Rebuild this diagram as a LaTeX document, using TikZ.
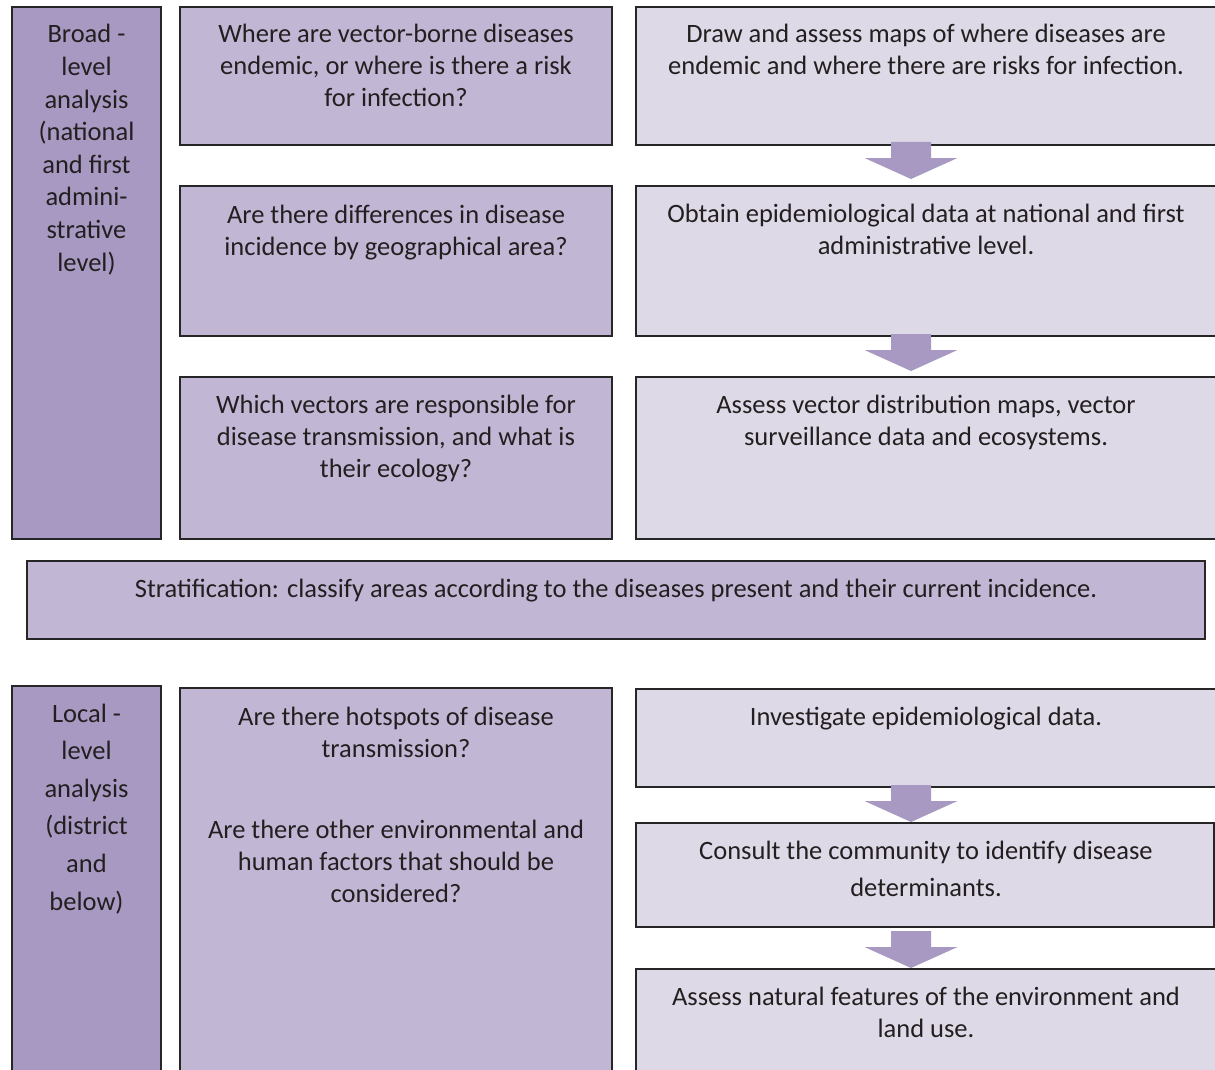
\documentclass[tikz,border=0pt]{standalone}
\usepackage{fontspec}
\setmainfont{Carlito}
\usetikzlibrary{calc}

\definecolor{deep}{HTML}{A899C2}
\definecolor{mid}{HTML}{C1B7D4}
\definecolor{pale}{HTML}{DED9E6}
\definecolor{edge}{HTML}{262626}
\definecolor{ink}{HTML}{231F20}

% centred block of lines; #1 = line spacing, #2 = lines
\newcommand\stack[2]{\parbox[t]{1150pt}{\centering\fontsize{26.5}{#1}\selectfont #2}}

% block arrow pointing down from one panel to the next;
% #1 = gap between tip and the lower panel
\newcommand\flowarrow[3][6]{%
  \coordinate (tip) at ($(#3.north west)+(275,-#1)$);
  \fill[deep] ($(tip)+(-20,-37)$) -- ($(tip)+(20,-37)$) -- ($(tip)+(20,-21)$)
    -- ($(tip)+(46.5,-21)$) -- (tip) -- ($(tip)+(-46.5,-21)$)
    -- ($(tip)+(-20,-21)$) -- cycle;}

\begin{document}
\begin{tikzpicture}[x=1pt,y=-1pt,
  panel/.style={draw=edge, line width=2pt, anchor=north west, inner sep=0pt, outer sep=0pt},
  deepbox/.style={panel, fill=deep},
  midbox/.style={panel, fill=mid},
  palebox/.style={panel, fill=pale},
  caption/.style={anchor=base, inner sep=0pt, text=ink}
]
\clip (0,0) rectangle (1215,1070);

% ---------- broad level ----------
\node[deepbox, minimum width=149pt, minimum height=532pt] (broad) at (12,7) {};
\node[midbox, minimum width=432pt, minimum height=138pt] (q1) at (180,7) {};
\node[palebox, minimum width=582pt, minimum height=138pt] (a1) at (636,7) {};
\node[midbox, minimum width=432pt, minimum height=150pt] (q2) at (180,186) {};
\node[palebox, minimum width=582pt, minimum height=150pt] (a2) at (636,186) {};
\node[midbox, minimum width=432pt, minimum height=162pt] (q3) at (180,377) {};
\node[palebox, minimum width=582pt, minimum height=162pt] (a3) at (636,377) {};

\flowarrow[7]{a1}{a2}
\flowarrow[6]{a2}{a3}

\node[caption] (tbroad) at (86.5,43) {\stack{32.6pt}{Broad -\\level\\analysis\\(national\\and first\\admini-\\strative\\level)}};
\node[caption] (tq1) at (396,43) {\stack{32pt}{Where are vector-borne diseases\\endemic, or where is there a risk\\for infection?}};
\node[caption] (ta1) at (926,43) {\stack{32pt}{Draw and assess maps of where diseases are\\endemic and where there are risks for infection.}};
\node[caption] (tq2) at (396,223) {\stack{32pt}{Are there differences in disease\\incidence by geographical area?}};
\node[caption] (ta2) at (926,222) {\stack{32pt}{Obtain epidemiological data at national and first\\administrative level.}};
\node[caption] (tq3) at (396,413) {\stack{32pt}{Which vectors are responsible for\\disease transmission, and what is\\their ecology?}};
\node[caption] (ta3) at (926,413) {\stack{32pt}{Assess vector distribution maps, vector\\surveillance data and ecosystems.}};

% ---------- stratification ----------
\node[midbox, minimum width=1178pt, minimum height=78pt] (strat) at (27,561) {};
\node[caption] (tstrat) at (616,597) {\stack{32pt}{Stratification: classify areas according to the diseases present and their current incidence.}};

% ---------- local level ----------
\node[deepbox, minimum width=149pt, minimum height=420pt] (local) at (12,686) {};
\node[midbox, minimum width=432pt, minimum height=420pt] (q4) at (180,688) {};
\node[palebox, minimum width=582pt, minimum height=98pt] (a4) at (636,689) {};
\node[palebox, minimum width=578pt, minimum height=104pt] (a5) at (636,823) {};
\node[palebox, minimum width=582pt, minimum height=130pt] (a6) at (636,969) {};

\flowarrow[1]{a4}{a5}
\flowarrow[1]{a5}{a6}

\node[caption] (tlocal) at (86.5,722) {\stack{37.6pt}{Local -\\level\\analysis\\(district\\and\\below)}};
\node[caption] (tq4) at (396,725) {\stack{32pt}{Are there hotspots of disease\\transmission?}};
\node[caption] (tq4b) at (396,838) {\stack{32pt}{Are there other environmental and\\human factors that should be\\considered?}};
\node[caption] (ta4) at (926,725) {\stack{32pt}{Investigate epidemiological data.}};
\node[caption] (ta5) at (926,859) {\stack{37pt}{Consult the community to identify disease\\determinants.}};
\node[caption] (ta6) at (926,1005) {\stack{32pt}{Assess natural features of the environment and\\land use.}};
\end{tikzpicture}
\end{document}
